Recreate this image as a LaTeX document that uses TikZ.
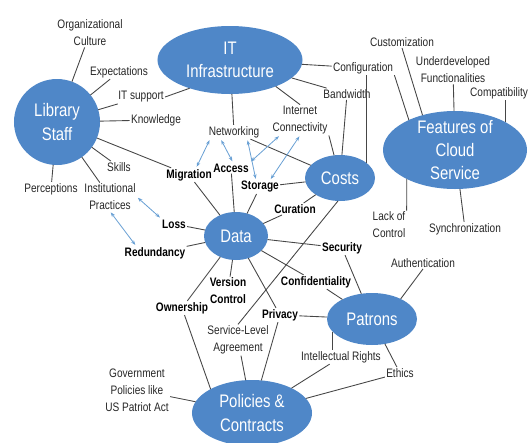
\documentclass[tikz,border=0pt]{standalone}
\usepackage{fontspec}
\setmainfont{Liberation Sans}[FakeStretch=0.82]
\usetikzlibrary{shapes.geometric,arrows.meta,calc}
\definecolor{topicblue}{RGB}{79,135,200}
\definecolor{arrowblue}{RGB}{105,160,212}
\definecolor{linkgray}{RGB}{70,70,70}
\tikzset{
  topic/.style={ellipse, fill=topicblue, text=white, align=center, inner sep=0pt, outer sep=0pt,
    font=\fontsize{15.5}{20}\selectfont},
  item/.style={align=center, inner sep=1pt, text=black!85, font=\fontsize{10.5}{14.5}\selectfont},
  keyitem/.style={item, text=black, font=\fontsize{10.5}{14.5}\selectfont\bfseries},
  link/.style={draw=linkgray, line width=0.75pt},
  twoway/.style={draw=arrowblue, line width=0.7pt,
    {Stealth[length=4pt,width=3pt]}-{Stealth[length=4pt,width=3pt]}, shorten <=1pt, shorten >=1pt}
}
\begin{document}
\begin{tikzpicture}[x=0.03cm, y=-0.03cm]
  \useasboundingbox (0,0) rectangle (529,442);
  % topics
  \node[topic, minimum width=2.58cm, minimum height=2.58cm] (staff) at (57,122) {Library\\Staff};
  \node[topic, minimum width=4.35cm, minimum height=2.04cm] (infra) at (230,60) {IT\\Infrastructure};
  \node[topic, minimum width=2.1cm, minimum height=1.38cm] (costs) at (340,178) {Costs};
  \node[topic, minimum width=4.32cm, minimum height=2.34cm, inner ysep=-4pt] (cloud) at (455,150) {Features of\\Cloud\\Service};
  \node[topic, minimum width=1.92cm, minimum height=1.44cm] (data) at (236,236) {Data};
  \node[topic, minimum width=2.7cm, minimum height=1.56cm] (patrons) at (372,319) {Patrons};
  \node[topic, minimum width=3.6cm, minimum height=1.98cm] (policy) at (252,413) {Policies \&\\Contracts};

  % staff side
  \node[item] (orgcult) at (90,33) {Organizational\\Culture};
  \node[item] (expect) at (119,72) {Expectations};
  \node[item] (itsupport) at (141,97) {IT support};
  \node[item] (knowledge) at (156,120) {Knowledge};
  \node[item] (skills) at (119,167) {Skills};
  \node[item] (percep) at (51,189) {Perceptions};
  \node[item] (instpract) at (110,197) {Institutional\\Practices};

  % data side
  \node[keyitem] (migration) at (189,175) {Migration};
  \node[keyitem] (access) at (231,168) {Access};
  \node[item] (networking) at (234,132) {Networking};
  \node[keyitem] (storage) at (260,187) {Storage};
  \node[item] (internet) at (300,120) {Internet\\Connectivity};
  \node[keyitem] (curation) at (295,209) {Curation};
  \node[keyitem] (loss) at (174,224) {Loss};
  \node[keyitem] (redund) at (155,253) {Redundancy};
  \node[keyitem] (security) at (342,248) {Security};
  \node[keyitem] (confid) at (316,282) {Confidentiality};
  \node[keyitem] (version) at (228,291) {Version\\Control};
  \node[keyitem] (ownership) at (182,308) {Ownership};
  \node[keyitem] (privacy) at (280,315) {Privacy};

  % policies and patrons
  \node[item] (sla) at (238,340) {Service-Level\\Agreement};
  \node[item] (govt) at (137,390) {Government\\Policies like\\US Patriot Act};
  \node[item] (intellect) at (341,357) {Intellectual Rights};
  \node[item] (ethics) at (400,373) {Ethics};
  \node[item] (authent) at (423,263) {Authentication};

  % cloud side
  \node[item] (lackctrl) at (389,225) {Lack of\\Control};
  \node[item] (sync) at (465,229) {Synchronization};
  \node[item] (custom) at (402,42) {Customization};
  \node[item] (config) at (363,68) {Configuration};
  \node[item] (underdev) at (453,70) {Underdeveloped\\Functionalities};
  \node[item] (compat) at (499,93) {Compatibility};
  \node[item] (bandwidth) at (347,94) {Bandwidth};

  % links
  \foreach \t in {orgcult,expect,itsupport,knowledge,skills,migration,percep,instpract}
    \draw[link] (staff) -- (\t);
  \draw[link] (itsupport.east) -- (infra.-145);
  \foreach \t in {networking,config,bandwidth}
    \draw[link] (infra) -- (\t);
  \draw[link] (infra.-30) -- (internet.north);
  \foreach \t in {bandwidth,networking,storage,curation}
    \draw[link] (costs) -- (\t);
  \draw[link] (internet.south east) -- (costs);
  \draw[link] (config.south -| costs.30) -- (costs.30);
  \draw[link] (costs.-95) -- (sla.north);
  \draw[link] (custom.south) -- (cloud.133);
  \draw[link] (config.south east) -- (cloud.147);
  \draw[link] (underdev) -- (cloud);
  \draw[link] (compat.south -| cloud.29) -- (cloud.29);
  \draw[link] (lackctrl.north east) -- (cloud.-149);
  \draw[link] (sync) -- (cloud);
  \foreach \t in {migration,access,storage,curation,loss,redund,security,confid,version,ownership,privacy}
    \draw[link] (data) -- (\t);
  \foreach \t in {security,confid,privacy,ethics}
    \draw[link] (patrons) -- (\t);
  \draw[link] (authent.south) -- (patrons.35);
  \draw[link] (patrons.-162) -- (intellect.north -| patrons.-162);
  \draw[link] (ownership) -- (policy.150);
  \foreach \t in {sla,privacy,intellect,ethics,govt}
    \draw[link] (policy) -- (\t);

  % two-way arrows
  \draw[twoway] ($(networking.south west)!0.05!(networking.south east)$) -- (migration.45);
  \draw[twoway] ($(networking.south west)!0.25!(networking.south east)$) -- ($(access.north west)!0.55!(access.north east)$);
  \draw[twoway] ($(networking.south west)!0.75!(networking.south east)$) -- ($(storage.north west)!0.4!(storage.north east)$);
  \draw[twoway] ($(internet.south west)!0.15!(internet.south east)$) -- (access.north east);
  \draw[twoway] ($(internet.south west)!0.5!(internet.south east)$) -- ($(storage.north west)!0.75!(storage.north east)$);
  \draw[twoway] (instpract.east) -- (loss.north west);
  \draw[twoway] (instpract.south) -- ($(redund.north west)!0.2!(redund.north east)$);
\end{tikzpicture}
\end{document}
